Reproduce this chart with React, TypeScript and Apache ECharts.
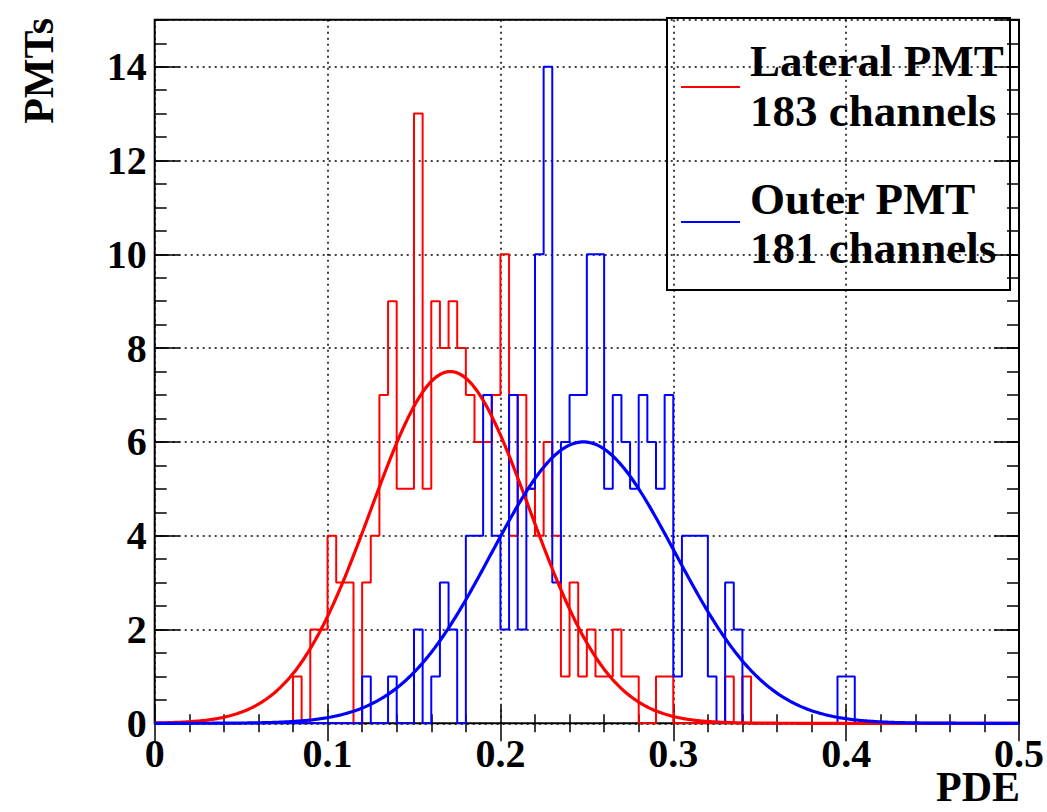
import React, { useEffect, useRef } from "react";
import * as echarts from "echarts";

// ---------------- data ----------------
const BIN_WIDTH = 0.005;
const N_BINS = 100;
const X_MIN = 0;
const X_MAX = 0.5;
const Y_MIN = 0;
const Y_MAX = 15;

const xTickInterval = 0.1;
const yTickInterval = 2;
const yMinorInterval = 0.5;

// Lateral PMT histogram (red): counts per bin starting at bin index 16 (PDE 0.080)
const lateralFirstBin = 16;
const lateralCounts = [
  1, 0, 2, 2, 4, 3, 3, 0, 3, 4,
  7, 9, 5, 5, 13, 5, 9, 8, 9, 8,
  7, 6, 6, 7, 10, 4, 7, 5, 4, 6,
  4, 1, 3, 1, 2, 1, 1, 2, 1, 1,
  0, 0, 1, 1, 0, 0, 0, 0, 0, 0,
  1, 0, 1,
];

// Outer PMT histogram (blue): counts per bin starting at bin index 24 (PDE 0.120)
const outerFirstBin = 24;
const outerCounts = [
  1, 0, 0, 1, 0, 0, 2, 0, 1, 3,
  2, 0, 4, 4, 7, 4, 2, 7, 2, 5,
  10, 14, 3, 6, 7, 7, 10, 10, 5, 7,
  6, 5, 7, 6, 5, 7, 1, 4, 4, 4,
  1, 0, 3, 2, 0, 0, 0, 0, 0, 0,
  0, 0, 0, 0, 0, 1, 1,
];

// Gaussian fit parameters
const lateralFit = { amplitude: 7.5, mean: 0.171, sigma: 0.046 };
const outerFit = { amplitude: 6.0, mean: 0.248, sigma: 0.053 };
const fitStep = 0.001;

const legendLabels = [
  ["Lateral PMT", "183 channels"],
  ["Outer PMT", "181 channels"],
];
const RED = "#ff0000";
const BLUE = "#0000ff";

// ---------------- helpers ----------------
function histLine(firstBin: number, counts: number[]): number[][] {
  const full: number[] = new Array(N_BINS).fill(0);
  counts.forEach((c, k) => {
    full[firstBin + k] = c;
  });
  const pts: number[][] = [];
  for (let i = 0; i < N_BINS; i++) {
    pts.push([+(i * BIN_WIDTH).toFixed(4), full[i]]);
  }
  pts.push([X_MAX, full[N_BINS - 1]]);
  return pts;
}

function fitCurve(p: { amplitude: number; mean: number; sigma: number }): number[][] {
  const pts: number[][] = [];
  const n = Math.round((X_MAX - X_MIN) / fitStep);
  for (let i = 0; i <= n; i++) {
    const x = X_MIN + i * fitStep;
    const y = p.amplitude * Math.exp(-((x - p.mean) ** 2) / (2 * p.sigma * p.sigma));
    pts.push([x, y]);
  }
  return pts;
}

const FONT = "Liberation Serif";

export default function App() {
  const ref = useRef<HTMLDivElement>(null);
  useEffect(() => {
    if (!ref.current) return;
    const chart = echarts.init(ref.current, undefined, { renderer: "svg" });

    const tickStyle = { color: "#000", width: 1.5 };
    const gridDot = { color: "#000", width: 1.5, type: [2, 4] as any };

    const left = 154.7;
    const right = 27;
    const top = 19.8;
    const bottom = 88.7;

    const option: any = {
      animation: false,
      backgroundColor: "#ffffff",
      grid: {
        left,
        right,
        top,
        bottom,
        show: true,
        borderColor: "#000",
        borderWidth: 2,
        backgroundColor: "transparent",
        containLabel: false,
      },
      xAxis: [
        {
          type: "value",
          min: X_MIN,
          max: X_MAX,
          interval: xTickInterval,
          position: "bottom",
          axisLine: { show: false },
          axisTick: { show: true, inside: true, length: 18, lineStyle: tickStyle },
          minorTick: { show: true, splitNumber: 5, length: 9, lineStyle: tickStyle },
          splitLine: { show: true, lineStyle: gridDot },
          axisLabel: {
            show: true,
            margin: 10,
            color: "#000",
            fontFamily: FONT,
            fontWeight: "bold",
            fontSize: 40,
          },
        },
        {
          type: "value",
          min: X_MIN,
          max: X_MAX,
          interval: xTickInterval,
          position: "top",
          axisLine: { show: false },
          axisTick: { show: true, inside: true, length: 18, lineStyle: tickStyle },
          minorTick: { show: true, splitNumber: 5, length: 9, lineStyle: tickStyle },
          splitLine: { show: false },
          axisLabel: { show: false },
        },
      ],
      yAxis: [
        {
          type: "value",
          min: Y_MIN,
          max: Y_MAX,
          interval: yTickInterval,
          position: "left",
          axisLine: { show: false },
          axisTick: { show: true, inside: true, length: 25, lineStyle: tickStyle },
          splitLine: { show: true, lineStyle: gridDot },
          axisLabel: {
            show: true,
            showMaxLabel: false,
            margin: 8,
            color: "#000",
            fontFamily: FONT,
            fontWeight: "bold",
            fontSize: 40,
          },
        },
        {
          type: "value",
          min: Y_MIN,
          max: Y_MAX,
          interval: yMinorInterval,
          position: "left",
          axisLine: { show: false },
          axisTick: { show: true, inside: true, length: 12, lineStyle: tickStyle },
          splitLine: { show: false },
          axisLabel: { show: false },
        },
        {
          type: "value",
          min: Y_MIN,
          max: Y_MAX,
          interval: yTickInterval,
          position: "right",
          axisLine: { show: false },
          axisTick: { show: true, inside: true, length: 25, lineStyle: tickStyle },
          splitLine: { show: false },
          axisLabel: { show: false },
        },
        {
          type: "value",
          min: Y_MIN,
          max: Y_MAX,
          interval: yMinorInterval,
          position: "right",
          axisLine: { show: false },
          axisTick: { show: true, inside: true, length: 12, lineStyle: tickStyle },
          splitLine: { show: false },
          axisLabel: { show: false },
        },
      ],
      series: [
        {
          name: "Lateral PMT",
          type: "line",
          step: "end",
          symbol: "none",
          xAxisIndex: 0,
          yAxisIndex: 0,
          data: histLine(lateralFirstBin, lateralCounts),
          lineStyle: { color: RED, width: 2 },
          z: 3,
        },
        {
          name: "Outer PMT",
          type: "line",
          step: "end",
          symbol: "none",
          xAxisIndex: 0,
          yAxisIndex: 0,
          data: histLine(outerFirstBin, outerCounts),
          lineStyle: { color: BLUE, width: 2 },
          z: 3,
        },
        {
          name: "Lateral fit",
          type: "line",
          symbol: "none",
          xAxisIndex: 0,
          yAxisIndex: 0,
          data: fitCurve(lateralFit),
          lineStyle: { color: RED, width: 3.2 },
          z: 4,
        },
        {
          name: "Outer fit",
          type: "line",
          symbol: "none",
          xAxisIndex: 0,
          yAxisIndex: 0,
          data: fitCurve(outerFit),
          lineStyle: { color: BLUE, width: 3.2 },
          z: 4,
        },
      ],
      graphic: [
        {
          type: "text",
          x: 39,
          y: 18,
          rotation: Math.PI / 2,
          style: {
            text: "PMTs",
            fill: "#000",
            fontFamily: FONT,
            fontWeight: "bold",
            fontSize: 42,
            align: "right",
            verticalAlign: "middle",
          },
        },
        {
          type: "text",
          x: 1020,
          y: 787,
          style: {
            text: "PDE",
            fill: "#000",
            fontFamily: FONT,
            fontWeight: "bold",
            fontSize: 42,
            align: "right",
            verticalAlign: "middle",
          },
        },
        {
          type: "group",
          z: 100,
          children: [
            {
              type: "rect",
              shape: { x: 667, y: 18, width: 343, height: 272 },
              style: { fill: "#fff", stroke: "#000", lineWidth: 2 },
            },
            {
              type: "line",
              shape: { x1: 681, y1: 87, x2: 740, y2: 87 },
              style: { stroke: RED, lineWidth: 2 },
            },
            {
              type: "line",
              shape: { x1: 681, y1: 222, x2: 740, y2: 222 },
              style: { stroke: BLUE, lineWidth: 2 },
            },
            ...[
              [legendLabels[0][0], 61],
              [legendLabels[0][1], 110.5],
              [legendLabels[1][0], 199],
              [legendLabels[1][1], 247.5],
            ].map(([t, y]) => ({
              type: "text",
              x: 750,
              y: y as number,
              style: {
                text: t as string,
                fill: "#000",
                fontFamily: FONT,
                fontWeight: "bold",
                fontSize: 45,
                align: "left",
                verticalAlign: "middle",
              },
            })),
          ],
        },
      ],
    };

    chart.setOption(option);
    return () => {
      chart.dispose();
    };
  }, []);

  return (
    <div
      ref={ref}
      style={{ position: "absolute", left: 0, top: 0, width: 1047, height: 812, background: "#fff" }}
    />
  );
}
